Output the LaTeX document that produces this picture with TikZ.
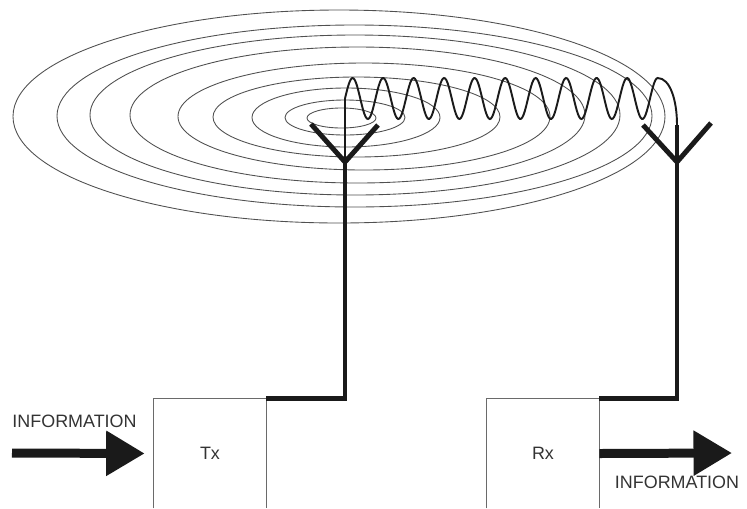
\documentclass[tikz,border=0pt]{standalone}
\usepackage{fontspec}
\setmainfont{Liberation Sans}
\usepackage{tikz}
\usetikzlibrary{arrows.meta, positioning}
\definecolor{waveLine}{HTML}{1A1A1A}
\definecolor{ringLine}{HTML}{505050}
\definecolor{boxLine}{HTML}{6A6A6A}
\definecolor{labelText}{HTML}{333333}

\begin{document}
\begin{tikzpicture}[x=0.02cm, y=-0.02cm,
  every node/.style={font=\fontsize{10.2}{12}\selectfont, text=labelText},
  ring/.style={draw=ringLine, line width=0.5pt},
  wave/.style={draw=waveLine, line width=1.1pt},
  feed/.style={draw=waveLine, line width=2.8pt},
  unit/.style={minimum width=2.24cm, minimum height=2.18cm, inner sep=0pt},
  bigarrow/.style={draw=waveLine, line width=1.8mm, -{Triangle[length=7.7mm, width=8.6mm]}}]
\useasboundingbox (0,0) rectangle (747,508);

% rings spreading out from the sender
\foreach \cx/\cy/\rx/\ry in {339/116.5/326/106.5, 354.5/116/297.5/91, 355/115/265/80,
  357.5/115/227.5/68, 364/116.5/186/53.5, 356.5/117/143.5/40, 346/117.5/94/29.5,
  345/117.5/60/17.5, 341.5/118/34.5/10}{
  \draw[ring] (\cx,\cy) ellipse [x radius=\rx*0.02cm, y radius=\ry*0.02cm];
}

% sender and receiver
\node[unit] (tx) at (210,453.5) {Tx};
\node[unit] (rx) at (543,453.5) {Rx};
\draw[draw=boxLine, line width=0.6pt] (tx.south west) |- (tx.north east) -- (tx.south east);
\draw[draw=boxLine, line width=0.6pt] (rx.south west) |- (rx.north east) -- (rx.south east);

% antennas
\coordinate (txant) at (345,162);
\coordinate (rxant) at (677,162);
\coordinate (rxtop) at (677,125);
\draw[feed] (tx.north east) -| (txant);
\draw[feed] (txant) ++(-34,-38) -- (txant) -- ++(33,-37);
\draw[feed] (rx.north east) -| (rxtop);
\draw[feed] (rxant) ++(-34,-37) -- (rxant) -- ++(34,-39);

% carrier between the antennas
\draw[wave] (txant) -- (345,98.5) -- plot[domain=345:657.6, samples=260]
  (\x, {98.5-20.5*sin((\x-345)*11.803)}) .. controls (670,78) and (677,100) .. (rxtop);

% information in and out
\coordinate (infoL) at (12,453);
\coordinate (infoR) at (732,453);
\draw[bigarrow, shorten >=1.8mm] (infoL) -- (tx.west);
\draw[bigarrow] (rx.east) -- (infoR);
\node (inlabel) at (74.5,421.5) {INFORMATION};
\node (outlabel) at (677,482.5) {INFORMATION};
\end{tikzpicture}
\end{document}
